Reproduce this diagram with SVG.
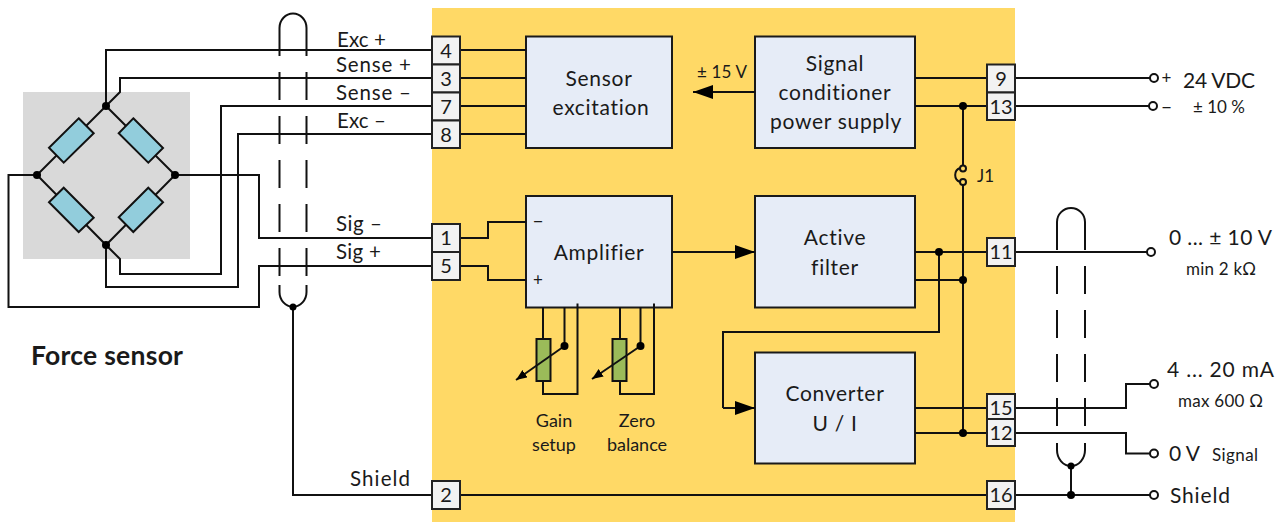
<svg xmlns="http://www.w3.org/2000/svg" width="1284" height="522" viewBox="0 0 1284 522">
<style>
text{font-family:"Lato","Liberation Sans",sans-serif;fill:#1a1a1a}
.w{fill:none;stroke:#111;stroke-width:2}
.d{fill:none;stroke:#111;stroke-width:2;stroke-dasharray:28 16}
.dot{fill:#000}
.oc{fill:#fff;stroke:#111;stroke-width:2}
.oy{fill:#FFD966;stroke:#111;stroke-width:2}
.box{fill:#E6ECF7;stroke:#1a1a1a;stroke-width:2}
.term{fill:#F2F2F2;stroke:#222;stroke-width:2}
.res{fill:#92CDDC;stroke:#111;stroke-width:2}
.pot{fill:#9BBB59;stroke:#111;stroke-width:2}
.t{font-size:20px;text-anchor:middle}
.b{font-size:21px;text-anchor:middle;letter-spacing:.7px}
.l{font-size:20.500px}
.s{font-size:17px}
.big{font-size:21px}
.c{font-size:18px;text-anchor:middle}
.pm{font-size:20px;text-anchor:middle}
</style>
<defs>
<marker id="ah" viewBox="0 0 20 14" refX="20" refY="7" markerWidth="20" markerHeight="14" markerUnits="userSpaceOnUse" orient="auto"><path d="M0 0L20 7L0 14Z" fill="#000"/></marker>
<marker id="as" viewBox="0 0 11 9" refX="11" refY="4.5" markerWidth="11" markerHeight="9" markerUnits="userSpaceOnUse" orient="auto"><path d="M0 0L11 4.500L0 9Z" fill="#000"/></marker>
</defs>
<rect id="module-background" x="432" y="8" width="583" height="514" fill="#FFD966"/>
<rect id="sensor-background" x="23" y="92" width="167" height="167" fill="#D9D9D9"/>
<g id="sensor-excitation"><rect class="box" x="526" y="36.500" width="146" height="111.500"/><text class="b" x="599" y="86">Sensor</text><text class="b" x="601" y="115">excitation</text></g>
<g id="power-supply"><rect class="box" x="755" y="36.500" width="160" height="111.500"/><text class="b" x="835" y="71">Signal</text><text class="b" x="835" y="100">conditioner</text><text class="b" x="836" y="129">power supply</text></g>
<g id="amplifier"><rect class="box" x="526" y="196" width="146" height="111.500"/><text class="b" x="599" y="260">Amplifier</text><text x="538" y="227" class="pm">–</text><text x="538" y="286" class="s" text-anchor="middle">+</text></g>
<g id="active-filter"><rect class="box" x="755" y="196" width="160" height="111.500"/><text class="b" x="835" y="245">Active</text><text class="b" x="835" y="275">filter</text></g>
<g id="converter"><rect class="box" x="755" y="352.500" width="160" height="111"/><text class="b" x="835" y="401">Converter</text><text class="b" x="835" y="431">U / I</text></g>
<g id="gain-setup"><rect class="pot" x="536.500" y="339" width="14" height="42"/><text x="554" y="427" class="c">Gain</text><text x="554" y="451" class="c">setup</text></g>
<g id="zero-balance"><rect class="pot" x="612.500" y="339" width="14" height="42"/><text x="637" y="427" class="c">Zero</text><text x="637" y="451" class="c">balance</text></g>
<g id="connectors">
<path class="w" d="M106 106V50H432M106 106L120 92V78H432M432 106H221V274H120V259L106 245M432 134H238V287H106V245M175 175H259V238H432M37 175H8.500V307H259V266H432"/>
<path class="w" d="M106 106L37 175L106 245L175 175Z"/>
<path class="w" d="M293 307V495H432M460 495H987M1015 495H1150"/>
<path class="w" d="M279.500 28A13.500 14.500 0 0 1 306.500 28M279.500 285V292A14 15 0 0 0 293 307A14 15 0 0 0 306.500 292V285"/>
<path class="d" d="M279.500 28V280M306.500 28V280"/>
<path class="w" d="M1057 222A14 14 0 0 1 1085 222M1057 443V450A14 16 0 0 0 1071 466A14 16 0 0 0 1085 450V443"/>
<path class="d" d="M1057 222V430M1085 222V430"/>
<path class="w" d="M1071 466V495"/>
<path class="w" d="M460 50H526M460 78H526M460 106H526M460 134H526"/>
<path class="w" d="M460 238H488V222H526M460 266H488V280H526"/>
<path class="w" marker-end="url(#ah)" d="M755 92H693"/>
<path class="w" marker-end="url(#ah)" d="M672 252H755"/>
<path class="w" d="M543 307V339M543 381V394H577.500V303.500M564.500 307V346"/>
<path class="w" d="M620 307V339M620 381V394H654V303.500M640.500 307V346"/>
<path class="w" marker-end="url(#as)" d="M564.500 346L516 380"/>
<path class="w" marker-end="url(#as)" d="M640.500 346L592 379"/>
<path class="w" d="M915 78H987M915 106H987M1015 78H1150M1015 106H1149"/>
<path class="w" d="M963 106V165.500M963 185V433"/>
<path class="w" d="M960 168A7.500 7.500 0 0 0 960 182"/>
<path class="w" d="M915 252H987M1015 252H1147M915 280H963M939 252V332H723V408"/>
<path class="w" marker-end="url(#ah)" d="M723 408H755"/>
<path class="w" d="M915 408H987M915 433H987M1015 408H1126V384H1150M1015 433H1126V453.500H1150"/>
<circle class="dot" cx="106" cy="106" r="4"/><circle class="dot" cx="37" cy="175" r="4"/><circle class="dot" cx="175" cy="175" r="4"/><circle class="dot" cx="106" cy="245" r="4"/>
<circle class="dot" cx="293" cy="307" r="3.500"/><circle class="dot" cx="1071" cy="466" r="3.500"/><circle class="dot" cx="1071" cy="495" r="4"/>
<circle class="dot" cx="963" cy="106" r="4"/><circle class="dot" cx="939" cy="252" r="4"/><circle class="dot" cx="963" cy="280" r="4"/><circle class="dot" cx="963" cy="433" r="4"/>
<circle class="dot" cx="564.500" cy="346" r="4"/><circle class="dot" cx="640.500" cy="346" r="4"/>
<circle class="oy" cx="963" cy="168.500" r="3"/><circle class="oy" cx="963" cy="182" r="3"/>
<circle class="oc" cx="1154" cy="78" r="4"/><circle class="oc" cx="1153" cy="106" r="4"/><circle class="oc" cx="1151" cy="252" r="4"/><circle class="oc" cx="1154" cy="384" r="4"/><circle class="oc" cx="1154" cy="453.500" r="4"/><circle class="oc" cx="1154" cy="495" r="4"/>
</g>
<g id="force-sensor">
<polygon class="res" points="78.700,118.300 93.700,133.300 63.700,162.700 49,147.700"/>
<polygon class="res" points="133.300,118.300 163,148 148.300,162.700 118.700,133.300"/>
<polygon class="res" points="49,202.300 63.700,187.700 93.700,217.700 78.700,232"/>
<polygon class="res" points="148.300,187.700 163,202.300 133.300,232 118.700,217.300"/>
<text x="31" y="365" font-size="26.500" font-weight="700" textLength="152">Force sensor</text>
</g>
<g id="wire-labels">
<text class="l" x="337" y="47" textLength="49">Exc +</text>
<text class="l" x="336" y="71.500" textLength="75">Sense +</text>
<text class="l" x="336" y="99.500" textLength="75">Sense –</text>
<text class="l" x="337" y="127.500" textLength="49">Exc –</text>
<text class="l" x="336" y="230.500" textLength="46">Sig –</text>
<text class="l" x="336" y="259" textLength="45">Sig +</text>
<text class="l" x="350" y="486" textLength="60">Shield</text>
</g>
<g id="left-terminals">
<g id="t4"><rect class="term" x="432" y="36.500" width="28" height="28"/><text class="t" x="446" y="57.500">4</text></g>
<g id="t3"><rect class="term" x="432" y="64.500" width="28" height="28"/><text class="t" x="446" y="85.500">3</text></g>
<g id="t7"><rect class="term" x="432" y="92.500" width="28" height="28"/><text class="t" x="446" y="113.500">7</text></g>
<g id="t8"><rect class="term" x="432" y="120.500" width="28" height="27.500"/><text class="t" x="446" y="141.500">8</text></g>
<g id="t1"><rect class="term" x="432" y="224" width="28" height="28"/><text class="t" x="446" y="245">1</text></g>
<g id="t5"><rect class="term" x="432" y="252" width="28" height="28"/><text class="t" x="446" y="273">5</text></g>
<g id="t2"><rect class="term" x="432" y="481" width="28" height="28"/><text class="t" x="446" y="502">2</text></g>
</g>
<g id="right-terminals">
<g id="t9"><rect class="term" x="987" y="64.500" width="28" height="28"/><text class="t" x="1001" y="85.500">9</text></g>
<g id="t13"><rect class="term" x="987" y="92.500" width="28" height="27.500"/><text class="t" x="1001" y="113.500">13</text></g>
<g id="t11"><rect class="term" x="987" y="238" width="28" height="28"/><text class="t" x="1001" y="259">11</text></g>
<g id="t15"><rect class="term" x="987" y="394" width="28" height="28"/><text class="t" x="1001" y="415">15</text></g>
<g id="t12"><rect class="term" x="987" y="419" width="28" height="27"/><text class="t" x="1001" y="440">12</text></g>
<g id="t16"><rect class="term" x="987" y="481" width="28" height="28"/><text class="t" x="1001" y="502">16</text></g>
</g>
<g id="misc-labels">
<text x="697" y="78" class="s" textLength="50">± 15 V</text>
<text x="977" y="182" class="s">J1</text>
<text x="1166.500" y="84" class="s" text-anchor="middle">+</text>
<text x="1166.500" y="113" class="pm">–</text>
<text x="1183" y="88" class="big" textLength="72">24 VDC</text>
<text x="1193" y="113" class="s" textLength="52">± 10 %</text>
<text x="1169" y="245" class="big" textLength="103">0 ... ± 10 V</text>
<text x="1186" y="275" class="s" textLength="70">min 2 kΩ</text>
<text x="1167" y="377" class="big" textLength="107">4 ... 20 mA</text>
<text x="1178" y="407" class="s" textLength="85">max 600 Ω</text>
<text x="1169" y="461" class="big" textLength="31">0 V</text>
<text x="1212" y="461" class="s" textLength="46">Signal</text>
<text x="1170" y="503" class="big" textLength="60">Shield</text>
</g>
</svg>
